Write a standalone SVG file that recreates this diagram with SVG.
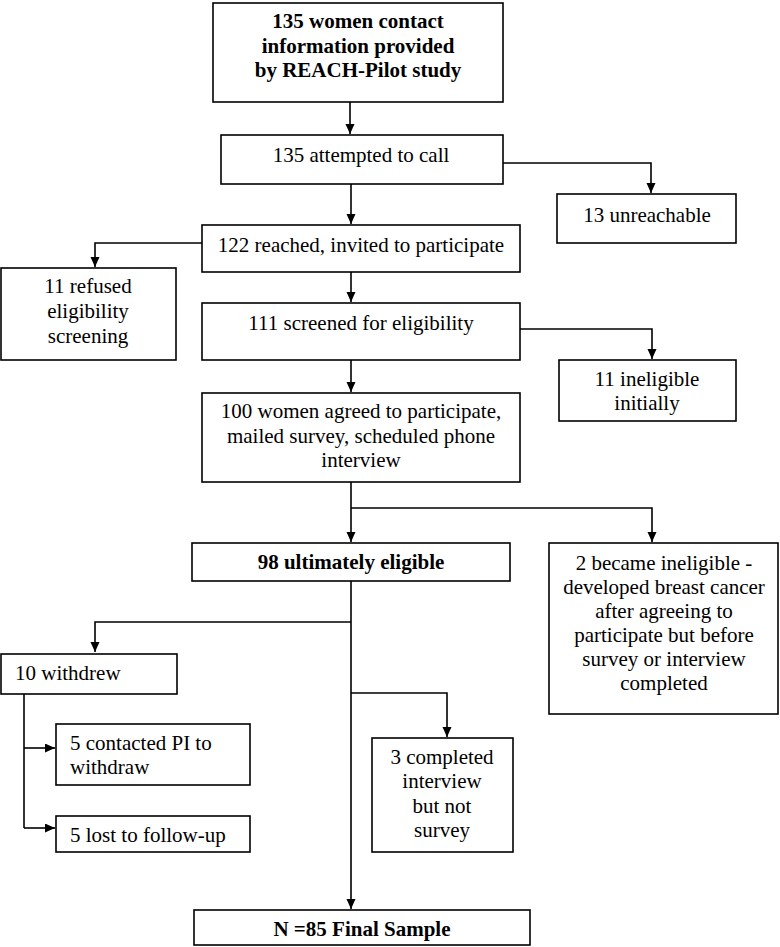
<svg xmlns="http://www.w3.org/2000/svg" width="780" height="947" viewBox="0 0 780 947">
<style>
.box{fill:#fff;stroke:#000;stroke-width:1.6}
.t{font-family:'Liberation Serif',serif;font-size:21px;fill:#000}
.c{text-anchor:middle}
.b{font-weight:bold}
.ln{fill:none;stroke:#000;stroke-width:1.6}
</style>
<defs>
<marker id="ah" markerUnits="userSpaceOnUse" markerWidth="11" markerHeight="10" refX="10" refY="4.5" orient="auto">
<path d="M0,0 L10,4.5 L0,9 Z" fill="#000"/>
</marker>
</defs>
<rect width="780" height="947" fill="#fff"/>
<g id="connectors">
<path class="ln" d="M350,102 V134" marker-end="url(#ah)"/>
<path class="ln" d="M503,163 H651 V193" marker-end="url(#ah)"/>
<path class="ln" d="M351,184 V224" marker-end="url(#ah)"/>
<path class="ln" d="M202,243 H95 V267" marker-end="url(#ah)"/>
<path class="ln" d="M351,272 V302" marker-end="url(#ah)"/>
<path class="ln" d="M520,329 H652 V359" marker-end="url(#ah)"/>
<path class="ln" d="M351,360 V392" marker-end="url(#ah)"/>
<path class="ln" d="M351,482 V542" marker-end="url(#ah)"/>
<path class="ln" d="M351,508 H652 V542" marker-end="url(#ah)"/>
<path class="ln" d="M351,581 V909" marker-end="url(#ah)"/>
<path class="ln" d="M351,622 H95 V652" marker-end="url(#ah)"/>
<path class="ln" d="M351,693 H447 V737" marker-end="url(#ah)"/>
<path class="ln" d="M24,694 V828"/>
<path class="ln" d="M24,748 H55" marker-end="url(#ah)"/>
<path class="ln" d="M24,828 H55" marker-end="url(#ah)"/>
</g>
<g id="n1">
<rect class="box" x="213" y="3" width="290" height="99"/>
<text class="t b c" x="358" y="28">135 women contact</text>
<text class="t b c" x="358" y="53">information provided</text>
<text class="t b c" x="358" y="77">by REACH-Pilot study</text>
</g>
<g id="n2">
<rect class="box" x="221" y="135" width="282" height="49"/>
<text class="t c" x="361" y="162">135 attempted to call</text>
</g>
<g id="n3">
<rect class="box" x="557" y="194" width="179" height="49"/>
<text class="t c" x="647" y="222">13 unreachable</text>
</g>
<g id="n4">
<rect class="box" x="202" y="225" width="318" height="47"/>
<text class="t c" x="361" y="252">122 reached, invited to participate</text>
</g>
<g id="n5">
<rect class="box" x="1" y="268" width="175" height="92"/>
<text class="t c" x="88" y="293">11 refused</text>
<text class="t c" x="88" y="318">eligibility</text>
<text class="t c" x="88" y="343">screening</text>
</g>
<g id="n6">
<rect class="box" x="202" y="303" width="318" height="57"/>
<text class="t c" x="361" y="330">111 screened for eligibility</text>
</g>
<g id="n7">
<rect class="box" x="559" y="360" width="177" height="61"/>
<text class="t c" x="647" y="386">11 ineligible</text>
<text class="t c" x="647" y="410">initially</text>
</g>
<g id="n8">
<rect class="box" x="202" y="393" width="318" height="89"/>
<text class="t c" x="361" y="418">100 women agreed to participate,</text>
<text class="t c" x="361" y="443">mailed survey, scheduled phone</text>
<text class="t c" x="361" y="467">interview</text>
</g>
<g id="n9">
<rect class="box" x="192" y="543" width="318" height="38"/>
<text class="t b c" x="351" y="569">98 ultimately eligible</text>
</g>
<g id="n10">
<rect class="box" x="549" y="543" width="229" height="171"/>
<text class="t c" x="664" y="570">2 became ineligible -</text>
<text class="t c" x="664" y="594">developed breast cancer</text>
<text class="t c" x="664" y="618">after agreeing to</text>
<text class="t c" x="664" y="642">participate but before</text>
<text class="t c" x="664" y="666">survey or interview</text>
<text class="t c" x="664" y="690">completed</text>
</g>
<g id="n11">
<rect class="box" x="1" y="654" width="176" height="40"/>
<text class="t" x="15" y="680">10 withdrew</text>
</g>
<g id="n12">
<rect class="box" x="56" y="724" width="194" height="61"/>
<text class="t" x="70" y="750">5 contacted PI to</text>
<text class="t" x="70" y="774">withdraw</text>
</g>
<g id="n13">
<rect class="box" x="56" y="816" width="194" height="36"/>
<text class="t" x="70" y="842">5 lost to follow-up</text>
</g>
<g id="n14">
<rect class="box" x="372" y="738" width="141" height="114"/>
<text class="t c" x="442" y="764">3 completed</text>
<text class="t c" x="442" y="788">interview</text>
<text class="t c" x="442" y="813">but not</text>
<text class="t c" x="442" y="837">survey</text>
</g>
<g id="n15">
<rect class="box" x="194" y="910" width="336" height="35"/>
<text class="t b c" x="362" y="936">N =85 Final Sample</text>
</g>
</svg>
